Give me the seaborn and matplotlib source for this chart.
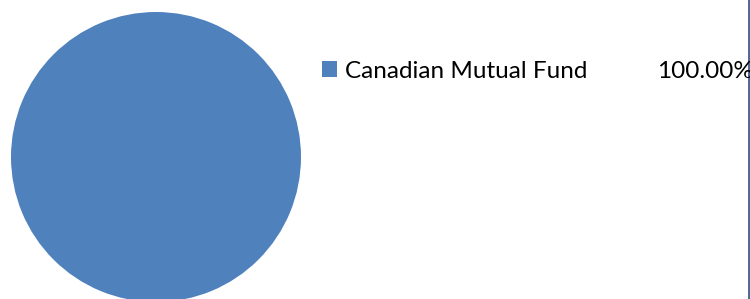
import matplotlib
matplotlib.use('Agg')
import matplotlib.pyplot as plt
import seaborn as sns

labels = ['Canadian Mutual Fund']
shares = [100.0]
colors = ['#4F81BD']

sns.set_style('white')
plt.rcParams['font.family'] = ['Lato', 'DejaVu Sans']

fig = plt.figure(figsize=(7.5, 2.99), dpi=100)
ax = fig.add_axes([11 / 750, (299 - 302) / 299, 290 / 750, 290 / 299])
wedges, _ = ax.pie(shares, colors=colors, startangle=90, counterclock=False,
                   radius=1, wedgeprops={'linewidth': 0})
ax.set_xlim(-1, 1)
ax.set_ylim(-1, 1)
ax.set_aspect('equal')
ax.axis('off')

leg = fig.legend(wedges, labels, loc='center left',
                 bbox_to_anchor=(322 / 750, (299 - 71) / 299),
                 frameon=False, fontsize=17.5, handlelength=0.62,
                 handleheight=0.62, handletextpad=0.33, borderpad=0,
                 borderaxespad=0, labelcolor='black')

total = sum(shares)
for i, v in enumerate(shares):
    fig.text(657 / 750, (299 - 71) / 299, f'{v / total * 100:.2f}%',
             fontsize=17.5, va='center', ha='left', color='black')

# right border line
fig.add_artist(plt.Line2D([749 / 750, 749 / 750], [0, 1], color='#2F4F7F',
                          linewidth=1.2, transform=fig.transFigure))

fig.savefig('out.png', dpi=100)
